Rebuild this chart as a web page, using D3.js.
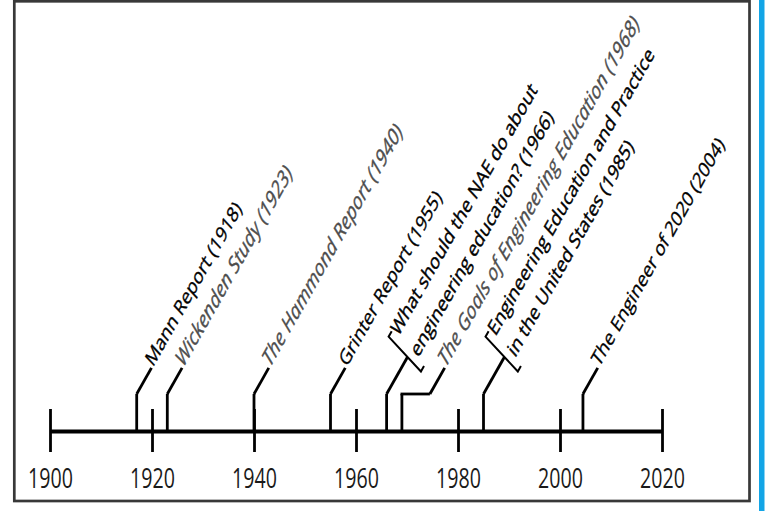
<!DOCTYPE html>
<html><head><meta charset="utf-8">
<script src="https://cdn.jsdelivr.net/npm/d3@7"></script>
<style>html,body{margin:0;padding:0;background:#fff;} svg{display:block}</style>
</head><body><svg id="chart" width="769" height="511"></svg>
<script>
// ---- data ----
const tickYears = [1900, 1920, 1940, 1960, 1980, 2000, 2020];
const eventYears = [1917, 1923, 1940, 1955, 1966, 1969, 1985, 2004.5];
const eventLabels = [
  ["Mann Report (1918)"],
  ["Wickenden Study (1923)"],
  ["The Hammond Report (1940)"],
  ["Grinter Report (1955)"],
  ["What should the NAE do about", "engineering education? (1966)"],
  ["The Goals of Engineering Education (1968)"],
  ["Engineering Education and Practice", "in the United States (1985)"],
  ["The Engineer of 2020 (2004)"]
];
const isBookTitle = [false, true, true, false, false, true, false, false];
const leaderKind = ["plain", "plain", "plain", "plain", "bracket", "jog", "bracket", "plain"];

// ---- layout ----
const W = 769, H = 511;
const axisY = 431, stemTop = 394;
const S_TICK = 1.42;               // vertical stretch of tick labels
const S = 1.38, ANG = 52;          // vertical stretch and pre-stretch angle of event labels
const FONT = "'Open Sans', 'Noto Sans', sans-serif";

const svg = d3.select("#chart");
svg.append("rect").attr("width", W).attr("height", H).attr("fill", "#fff");
svg.append("rect").attr("x", 14.3).attr("y", 1.3).attr("width", 735.2).attr("height", 499.7)
  .attr("fill", "none").attr("stroke", "#383838").attr("stroke-width", 2.7);
svg.append("rect").attr("x", 759).attr("y", 0).attr("width", 5.5).attr("height", H).attr("fill", "#13a5e6");

const x = d3.scaleLinear().domain([1900, 2020]).range([50, 662]);

const axis = d3.axisBottom(x).tickValues(tickYears).tickFormat(d3.format("d"))
  .tickSize(21).tickSizeOuter(0);
const gAxis = svg.append("g").attr("transform", `translate(0,${axisY})`).call(axis);
gAxis.select(".domain").attr("stroke", "#000").attr("stroke-width", 4);
gAxis.selectAll(".tick line").attr("y1", -22).attr("y2", 21).attr("stroke", "#000").attr("stroke-width", 2.8);
gAxis.selectAll(".tick text")
  .attr("y", 0).attr("dy", 0)
  .attr("transform", `translate(0,57) scale(1,${S_TICK})`)
  .attr("fill", "#1a1a1a")
  .style("font-family", FONT).style("font-size", "19.6px");

// ---- events ----
const gEv = svg.append("g");
eventYears.forEach((yr, i) => {
  const px = x(yr);
  const kind = leaderKind[i];
  gEv.append("line").attr("x1", px).attr("x2", px).attr("y1", axisY).attr("y2", stemTop)
    .attr("stroke", "#000").attr("stroke-width", 2.8);
  let ox = px;
  if (kind === "jog") {
    ox = px + 28;
    gEv.append("line").attr("x1", px - 1.4).attr("x2", ox).attr("y1", stemTop).attr("y2", stemTop)
      .attr("stroke", "#000").attr("stroke-width", 2.8);
  }
  const loc = gEv.append("g").attr("transform", `translate(${ox},${stemTop}) scale(1,${S}) rotate(${-ANG})`);
  const d = kind === "bracket" ? 34 : 24;
  loc.append("line").attr("x1", 0).attr("y1", 0).attr("x2", d).attr("y2", 0)
    .attr("stroke", "#000").attr("stroke-width", 2.8).attr("vector-effect", "non-scaling-stroke");
  const col = isBookTitle[i] ? "#4d4d4d" : "#000";
  const txt = loc.append("text")
    .style("font-family", FONT).style("font-size", isBookTitle[i] ? "17px" : "15.8px")
    .style("font-style", isBookTitle[i] ? "italic" : "normal")
    .attr("fill", col).attr("stroke", col).attr("stroke-width", 0.35)
    .attr("vector-effect", "non-scaling-stroke");
  if (kind === "bracket") {
    loc.append("path").attr("d", `M${d + 5},-24 H${d} V17 H${d + 5}`)
      .attr("fill", "none").attr("stroke", "#000").attr("stroke-width", 2)
      .attr("vector-effect", "non-scaling-stroke");
    const ys = [-16, 9];
    eventLabels[i].forEach((t, j) => {
      txt.append("tspan").attr("x", d + 6).attr("y", ys[j]).text(t);
    });
  } else {
    txt.attr("x", d + 1).attr("y", 1).text(eventLabels[i][0]);
  }
});
</script>
</body></html>
